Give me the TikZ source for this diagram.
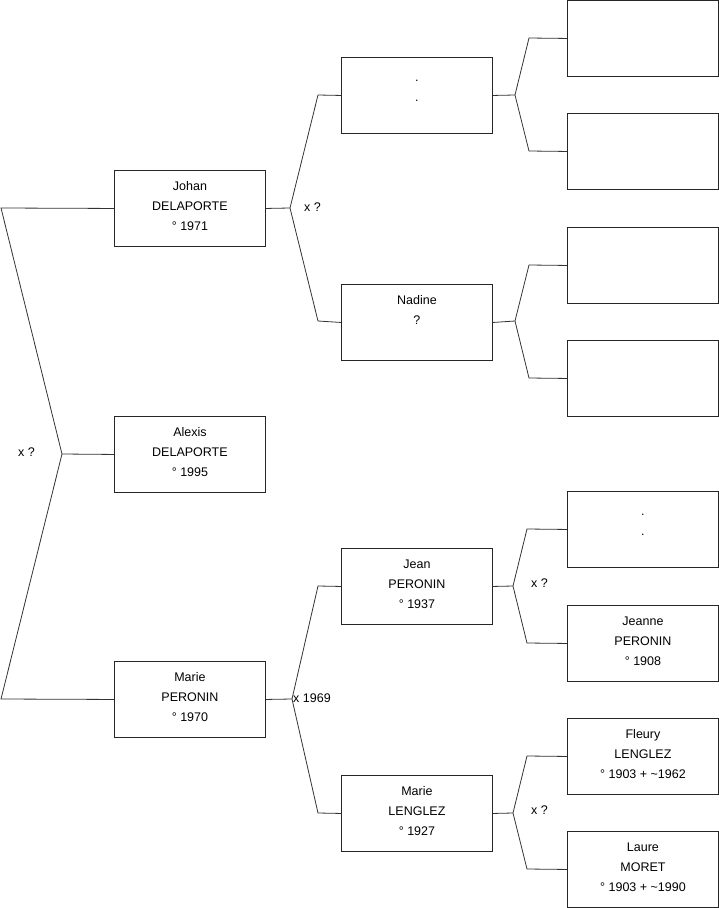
\documentclass[tikz,border=0pt]{standalone}
\usepackage{fontspec}
\setmainfont{Liberation Sans}
\newcommand{\lnstrut}{\rule[-7.5pt]{0pt}{20pt}}
\newcommand{\lowdot}{\raisebox{-4pt}{.}\hspace{6pt}}
\begin{document}
\begin{tikzpicture}[x=1pt,y=-1pt,
  person/.style={draw=black!85, line width=0.9pt, minimum width=151pt, minimum height=76pt, inner sep=0pt, align=center, font=\fontsize{12.5}{20}\selectfont, anchor=north west},
  link/.style={draw=black!80, line width=0.8pt},
  lbl/.style={font=\fontsize{12.5}{15}\selectfont, inner sep=0pt, anchor=west}]
\useasboundingbox (0,0) rectangle (719,908);
% generation 0
\node[person] (alexis) at (114,416) {\lnstrut Alexis\\\lnstrut DELAPORTE\\\lnstrut ° 1995};
% generation 1
\node[person] (johan) at (114,170) {\lnstrut Johan\\\lnstrut DELAPORTE\\\lnstrut ° 1971};
\node[person] (marie) at (114,661) {\lnstrut Marie\\\lnstrut PERONIN\\\lnstrut ° 1970};
% generation 2
\node[person] (pj) at (341,57) {\lnstrut\lowdot\\\lnstrut\lowdot\\\lnstrut};
\node[person] (nadine) at (341,284) {\lnstrut Nadine\\\lnstrut ?\\\lnstrut};
\node[person] (jean) at (341,548) {\lnstrut Jean\\\lnstrut PERONIN\\\lnstrut ° 1937};
\node[person] (mariel) at (341,775) {\lnstrut Marie\\\lnstrut LENGLEZ\\\lnstrut ° 1927};
% generation 3
\node[person] (g1) at (567,0) {};
\node[person] (g2) at (567,113) {};
\node[person] (g3) at (567,227) {};
\node[person] (g4) at (567,340) {};
\node[person] (g5) at (567,491) {\lnstrut\lowdot\\\lnstrut\lowdot\\\lnstrut};
\node[person] (g6) at (567,605) {\lnstrut Jeanne\\\lnstrut PERONIN\\\lnstrut ° 1908};
\node[person] (g7) at (567,718) {\lnstrut Fleury\\\lnstrut LENGLEZ\\\lnstrut ° 1903 + \textasciitilde1962};
\node[person] (g8) at (567,831) {\lnstrut Laure\\\lnstrut MORET\\\lnstrut ° 1903 + \textasciitilde1990};
% junctions
\coordinate (j0) at (62,454);
\coordinate (j0a) at (1,208);
\coordinate (j0b) at (1,699);
\coordinate (j1) at (290,208);
\coordinate (j1a) at (318,95);
\coordinate (j1b) at (318,321);
\coordinate (j2) at (292,699);
\coordinate (j2a) at (318,586);
\coordinate (j2b) at (318,813);
\coordinate (k1) at (515,95);
\coordinate (k1a) at (529,38);
\coordinate (k1b) at (529,151);
\coordinate (k2) at (515,321);
\coordinate (k2a) at (529,265);
\coordinate (k2b) at (529,378);
\coordinate (k3) at (513,586);
\coordinate (k3a) at (527,529);
\coordinate (k3b) at (527,643);
\coordinate (k4) at (513,813);
\coordinate (k4a) at (527,756);
\coordinate (k4b) at (527,869);
% connectors
\draw[link] (alexis.west) -- (j0);
\draw[link] (johan.west) -- (j0a) -- (j0) -- (j0b) -- (marie.west);
\draw[link] (johan.east) -- (j1);
\draw[link] (pj.west) -- (j1a) -- (j1) -- (j1b) -- (nadine.west);
\draw[link] (marie.east) -- (j2);
\draw[link] (jean.west) -- (j2a) -- (j2) -- (j2b) -- (mariel.west);
\draw[link] (pj.east) -- (k1);
\draw[link] (g1.west) -- (k1a) -- (k1) -- (k1b) -- (g2.west);
\draw[link] (nadine.east) -- (k2);
\draw[link] (g3.west) -- (k2a) -- (k2) -- (k2b) -- (g4.west);
\draw[link] (jean.east) -- (k3);
\draw[link] (g5.west) -- (k3a) -- (k3) -- (k3b) -- (g6.west);
\draw[link] (mariel.east) -- (k4);
\draw[link] (g7.west) -- (k4a) -- (k4) -- (k4b) -- (g8.west);
% labels
\node[lbl] (l0) at (18,452) {x ?};
\node[lbl] (l1) at (304,207) {x ?};
\node[lbl] (l2) at (293,698) {x 1969};
\node[lbl] (l3) at (531,583) {x ?};
\node[lbl] (l4) at (531,810) {x ?};
\end{tikzpicture}
\end{document}
